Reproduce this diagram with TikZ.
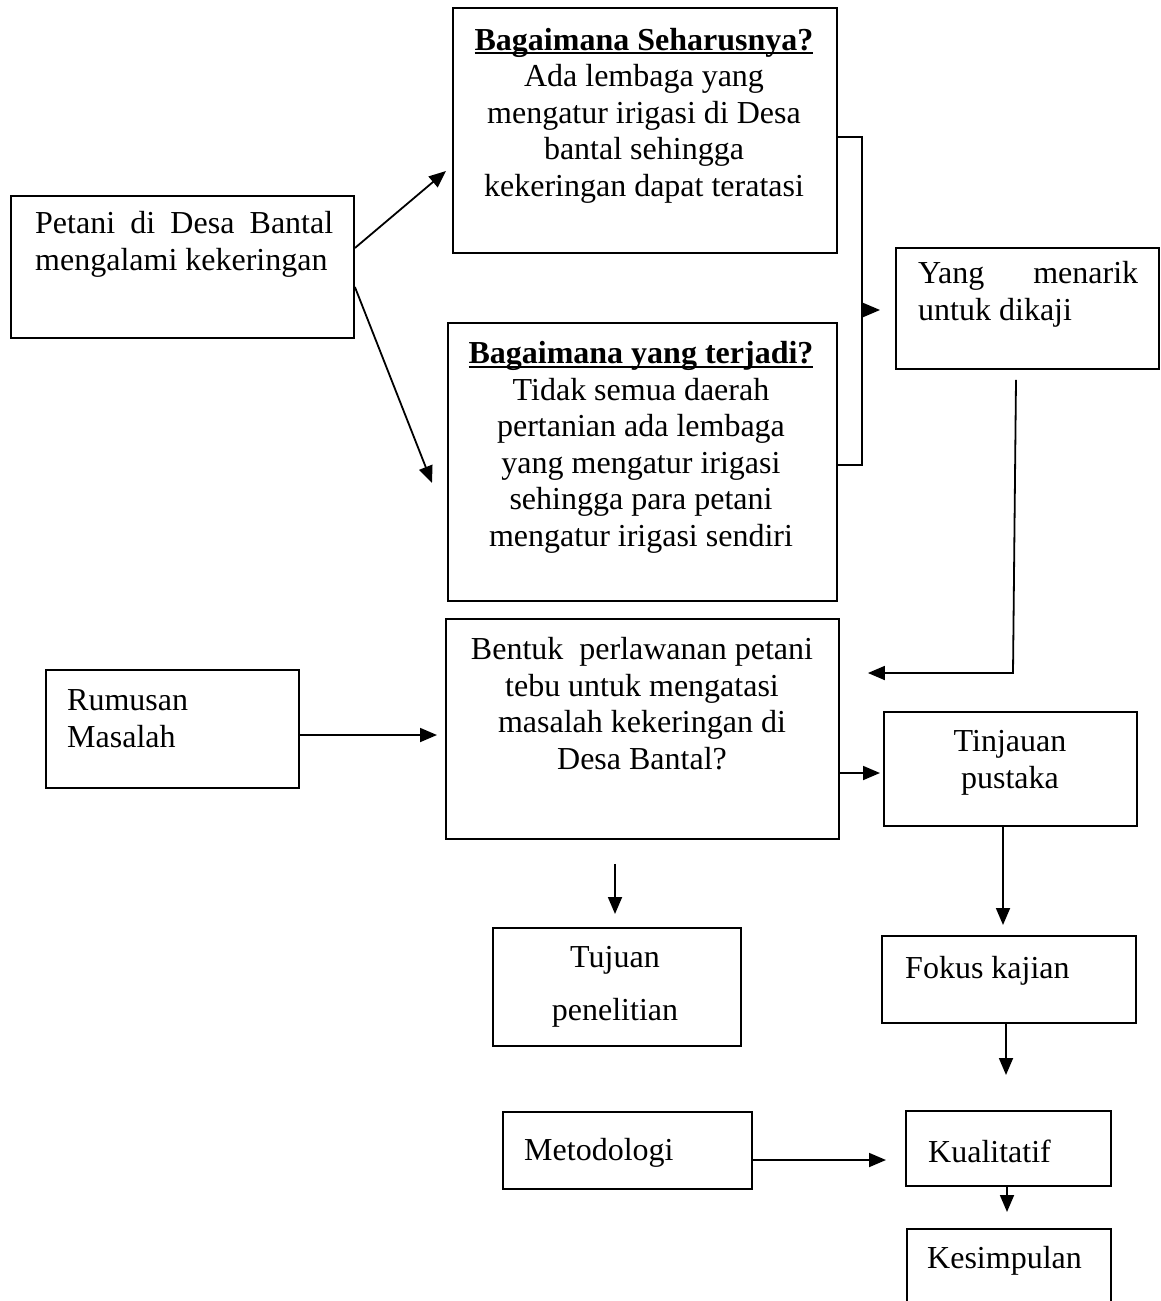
\documentclass[tikz,border=0pt]{standalone}
\usepackage{fontspec}
\setmainfont{Liberation Serif}
\usetikzlibrary{arrows.meta,calc}
\newsavebox\myulbox
\newcommand\myul[1]{\sbox\myulbox{#1}\rlap{\rule[-4pt]{\wd\myulbox}{2pt}}\usebox\myulbox}
\tikzset{
  box/.style={draw, line width=1.9pt, inner sep=0pt, anchor=north west},
  txt/.style={font=\fontsize{32}{36.5}\selectfont, inner sep=0pt, align=center},
  conn/.style={line width=1.8pt, -{Triangle[length=17pt,width=14pt]}},
  plain/.style={line width=1.8pt},
}
\newcommand\mkbox[5]{\node[box, minimum width={(#4-#2)*1pt}, minimum height={(#5-#3)*1pt}] (#1) at (#2,#3) {};}
\begin{document}
\begin{tikzpicture}[x=1pt,y=-1pt]
\useasboundingbox (0,0) rectangle (1160,1301);
\clip (0,0) rectangle (1160,1301);
% boxes
\mkbox{pet}{10}{195}{353}{337}
\mkbox{seh}{452}{7}{836}{252}
\mkbox{ter}{447}{322}{836}{600}
\mkbox{yang}{895}{247}{1158}{368}
\mkbox{bentuk}{445}{618}{838}{838}
\mkbox{rum}{45}{669}{298}{787}
\mkbox{tin}{883}{711}{1136}{825}
\mkbox{tuj}{492}{927}{740}{1045}
\mkbox{fok}{881}{935}{1135}{1022}
\mkbox{met}{502}{1111}{751}{1188}
\mkbox{kual}{905}{1110}{1110}{1185}
\mkbox{kes}{906}{1228}{1110}{1330}
% texts (base anchor = baseline of the last line)
\node[txt, align=left, anchor=base west] (petT) at (35,270)
  {\makebox[298pt][s]{Petani di Desa Bantal}\\mengalami kekeringan};
\node[txt, anchor=base] (sehT) at (644,196)
  {\textbf{\myul{Bagaimana Seharusnya?}}\\Ada lembaga yang\\mengatur irigasi di Desa\\bantal sehingga\\kekeringan dapat teratasi};
\node[txt, anchor=base] (terT) at (641,546)
  {\textbf{\myul{Bagaimana yang terjadi?}}\\Tidak semua daerah\\pertanian ada lembaga\\yang mengatur irigasi\\sehingga para petani\\mengatur irigasi sendiri};
\node[txt, align=left, anchor=base west] (yangT) at (918,320)
  {\makebox[220pt][s]{Yang menarik}\\untuk dikaji};
\node[txt, anchor=base] (bentukT) at (642,769)
  {Bentuk\ \ perlawanan petani\\tebu untuk mengatasi\\masalah kekeringan di\\Desa Bantal?};
\node[txt, align=left, anchor=base west] (rumT) at (67,747) {Rumusan\\Masalah};
\node[txt, anchor=base] (tinT) at (1010,788) {Tinjauan\\pustaka};
\node[txt, anchor=base] (tujT) at (615,1020) {Tujuan\\[16pt]penelitian};
\node[txt, anchor=base west] (fokT) at (905,978) {Fokus kajian};
\node[txt, anchor=base west] (metT) at (524,1160) {Metodologi};
\node[txt, anchor=base west] (kualT) at (928,1162) {Kualitatif};
\node[txt, anchor=base west] (kesT) at (927,1268) {Kesimpulan};
% connectors
\draw[conn] ($(pet.north east)+(0,53)$) -- ($(seh.north west)+(-6,164)$);
\draw[conn] ($(pet.north east)+(0,92)$) -- ($(ter.north west)+(-15,161)$);
\draw[plain] ($(seh.north east)+(0,130)$) -- ++(24,0) coordinate (brkTop)
  -- ($(brkTop |- ter.north east)+(0,143)$) -- ($(ter.north east)+(0,143)$);
\draw[conn] ($(seh.north east)+(24,303)$) -- ($(yang.north west)+(-15,63)$);
\coordinate (ybend) at (1013,673);
\draw[conn] ($(yang.south west)+(121,10)$) -- (ybend) -- ($(bentuk.north east)+(28,55)$);
\draw[conn] ($(rum.north east)+(0,66)$) -- ($(bentuk.north west)+(-8,117)$);
\draw[conn] ($(bentuk.north east)+(0,155)$) -- ($(tin.north west)+(-3,62)$);
\draw[conn] ($(bentuk.south west)+(170,24)$) -- ($(tuj.north west)+(123,-13)$);
\draw[conn] ($(tin.south west)+(120,0)$) -- ($(fok.north west)+(122,-10)$);
\draw[conn] ($(fok.south west)+(125,0)$) -- ($(kual.north west)+(101,-35)$);
\draw[conn] ($(met.north east)+(0,49)$) -- ($(kual.north west)+(-19,50)$);
\draw[conn] ($(kual.south west)+(102,0)$) -- ($(kes.north west)+(101,-16)$);
\end{tikzpicture}
\end{document}
